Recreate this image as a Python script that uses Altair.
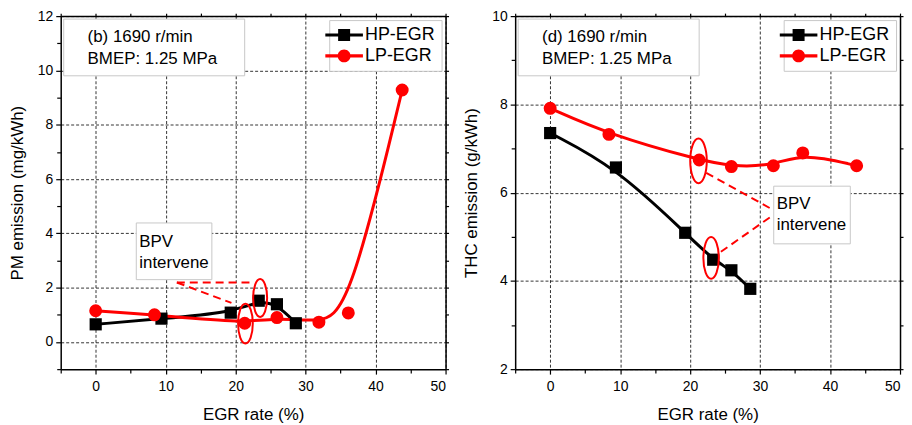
import altair as alt
import pandas as pd

# ---------------- data ----------------
series_names = ["HP-EGR", "LP-EGR"]
hp_egr = [0, 9.4, 19.3, 23.3, 25.9, 28.6]
lp_egr = [0, 8.4, 21.3, 25.9, 31.9, 36.1, 43.8]
pm_hp = [0.65, 0.86, 1.08, 1.52, 1.39, 0.69]
pm_lp = [1.15, 1.0, 0.69, 0.9, 0.73, 1.07, 9.28]
thc_hp = [7.35, 6.57, 5.09, 4.48, 4.24, 3.82]
thc_lp = [7.91, 7.32, 6.74, 6.59, 6.61, 6.90, 6.61]

x_major = [0, 10, 20, 30, 40, 50]
x_minor = [-5, 5, 15, 25, 35, 45]
pm_major = [0, 2, 4, 6, 8, 10, 12]
pm_minor = [-1, 1, 3, 5, 7, 9, 11]
thc_major = [2, 4, 6, 8, 10]
thc_minor = [3, 5, 7, 9]

# ellipse annotations (x, y, height in px)
pm_ell_x = [21.4, 23.5]
pm_ell_y = [0.68, 1.62]
pm_ell_h = [40, 38]
thc_ell_x = [21.2, 23.0]
thc_ell_y = [6.72, 4.52]
thc_ell_h = [45, 42]

# dashed leader lines (x, y) -> (x2, y2)
pm_rule_x = [11.6, 11.6]
pm_rule_y = [2.19, 2.19]
pm_rule_x2 = [22.45, 19.4]
pm_rule_y2 = [2.19, 1.44]
thc_rule_x = [22.3, 24.4]
thc_rule_y = [6.45, 4.66]
thc_rule_x2 = [31.96, 31.5]
thc_rule_y2 = [5.60, 5.45]

FONT = "Liberation Sans"
W, H = 387, 355

SQ_PATH = "M-2.1,-0.17H2.1V0.17H-2.1Z M-0.67,-0.67H0.67V0.67H-0.67Z"
CI_PATH = ("M-2.1,-0.17H2.1V0.17H-2.1Z "
           "M-0.72,0A0.72,0.72 0 1,1 0.72,0A0.72,0.72 0 1,1 -0.72,0Z")
ELL_PATH = "M-0.37,0A0.37,1 0 1,1 0.37,0A0.37,1 0 1,1 -0.37,0Z"


def panel(hp_y, lp_y, ydom, ymajor, yminor, ytitle, tag_lines,
          ex, ey, eh, rx, ry, rx2, ry2, bpv_box, bpv_text):
    xs = alt.Scale(domain=[-5, 50], nice=False, zero=False)
    ys = alt.Scale(domain=ydom, nice=False, zero=False)
    df_hp = pd.DataFrame({"egr": hp_egr, "val": hp_y, "series": series_names[0]})
    df_lp = pd.DataFrame({"egr": lp_egr, "val": lp_y, "series": series_names[1]})
    df_all = pd.concat([df_hp, df_lp], ignore_index=True)

    main_x = alt.Axis(values=x_major, title="EGR rate (%)", grid=True, tickSize=5,
                      labelPadding=5, titlePadding=14)
    main_y = alt.Axis(values=ymajor, title=ytitle, grid=True, tickSize=5,
                      labelPadding=3, titlePadding=11)
    minor_x = alt.Axis(values=x_minor, orient="bottom", grid=False, labels=False,
                       domain=False, tickSize=4, title=None)
    minor_y = alt.Axis(values=yminor, orient="left", grid=False, labels=False,
                       domain=False, tickSize=4, title=None)
    top_x = alt.Axis(values=x_major + x_minor, orient="top", grid=False, labels=False,
                     tickSize=3, title=None)
    right_y = alt.Axis(values=ymajor + yminor, orient="right", grid=False, labels=False,
                       tickSize=3, title=None)

    line_hp = alt.Chart(df_hp).mark_line(color="black", strokeWidth=3, interpolate="basis").encode(
        x=alt.X("egr:Q", scale=xs, axis=main_x),
        y=alt.Y("val:Q", scale=ys, axis=main_y),
    )
    line_lp = alt.Chart(df_lp).mark_line(color="red", strokeWidth=3, interpolate="basis").encode(
        x=alt.X("egr:Q", scale=xs, axis=minor_x),
        y=alt.Y("val:Q", scale=ys, axis=minor_y),
    )
    pts_hp = alt.Chart(df_hp).mark_point(filled=True, opacity=1, size=150, shape="square",
                                         color="black").encode(
        x=alt.X("egr:Q", scale=xs, axis=top_x),
        y=alt.Y("val:Q", scale=ys, axis=right_y),
    )
    pts_lp = alt.Chart(df_lp).mark_point(filled=True, opacity=1, size=170, shape="circle",
                                         color="red").encode(
        x=alt.X("egr:Q", scale=xs, axis=None),
        y=alt.Y("val:Q", scale=ys, axis=None),
    )
    legend = alt.Legend(
        title=None, orient="top-right", offset=4, padding=6, rowPadding=3,
        strokeColor="#c8c8c8", fillColor="white", labelFont=FONT, labelFontSize=18,
        labelColor="black", symbolSize=324, labelOffset=12, symbolStrokeWidth=0,
        symbolOpacity=1,
    )
    # legend-only layer: no marks are drawn (filtered out), scales have fixed domains
    legend_layer = alt.Chart(df_all).transform_filter("false").mark_point(filled=True).encode(
        x=alt.X("egr:Q", scale=xs, axis=None),
        y=alt.Y("val:Q", scale=ys, axis=None),
        color=alt.Color("series:N", scale=alt.Scale(domain=series_names, range=["black", "red"]),
                        legend=legend),
        shape=alt.Shape("series:N", scale=alt.Scale(domain=series_names, range=[SQ_PATH, CI_PATH]),
                        legend=legend),
    )

    df_ell = pd.DataFrame({"x": ex, "y": ey, "s": [h * h for h in eh]})
    ells = alt.Chart(df_ell).mark_point(shape=ELL_PATH, filled=False, color="red",
                                        strokeWidth=2, opacity=1).encode(
        x=alt.X("x:Q", scale=xs, axis=None),
        y=alt.Y("y:Q", scale=ys, axis=None),
        size=alt.Size("s:Q", scale=None),
    )
    df_rule = pd.DataFrame({"x": rx, "y": ry, "x2": rx2, "y2": ry2})
    rules = alt.Chart(df_rule).mark_rule(color="red", strokeWidth=2, strokeDash=[8, 5]).encode(
        x=alt.X("x:Q", scale=xs, axis=None),
        y=alt.Y("y:Q", scale=ys, axis=None),
        x2="x2:Q", y2="y2:Q",
    )

    box_style = dict(fill="white", stroke="#c8c8c8", strokeWidth=1)
    tag_box = alt.Chart().mark_rect(**box_style).encode(
        x=alt.value(3), x2=alt.value(185), y=alt.value(3), y2=alt.value(60))
    tag_txt = alt.Chart().mark_text(align="left", baseline="middle", font=FONT, fontSize=17,
                                    lineHeight=22, color="black").encode(
        x=alt.value(27), y=alt.value(21), text=alt.value(tag_lines))
    bx, bx2, by, by2 = bpv_box
    tx, ty = bpv_text
    bpv_b = alt.Chart().mark_rect(**box_style).encode(
        x=alt.value(bx), x2=alt.value(bx2), y=alt.value(by), y2=alt.value(by2))
    bpv_t = alt.Chart().mark_text(align="left", baseline="middle", font=FONT, fontSize=17,
                                  lineHeight=21, color="black").encode(
        x=alt.value(tx), y=alt.value(ty), text=alt.value(["BPV", "intervene"]))

    return alt.layer(line_hp, line_lp, pts_hp, pts_lp, legend_layer, tag_box, tag_txt,
                     bpv_b, bpv_t, rules, ells).resolve_axis(
        x="independent", y="independent").properties(width=W, height=H)


left = panel(pm_hp, pm_lp, [-1, 12], pm_major, pm_minor, "PM emission (mg/kWh)",
             ["(b) 1690 r/min", "BMEP: 1.25 MPa"],
             pm_ell_x, pm_ell_y, pm_ell_h, pm_rule_x, pm_rule_y, pm_rule_x2, pm_rule_y2,
             (76, 152, 208, 265), (79, 227))
right = panel(thc_hp, thc_lp, [2, 10], thc_major, thc_minor, "THC emission (g/kWh)",
              ["(d) 1690 r/min", "BMEP: 1.25 MPa"],
              thc_ell_x, thc_ell_y, thc_ell_h, thc_rule_x, thc_rule_y, thc_rule_x2, thc_rule_y2,
              (260, 337, 171, 229), (263, 189))

chart = alt.hconcat(left, right, spacing=13).properties(
    padding={"left": 0, "top": 0, "right": 0, "bottom": 0}
).resolve_scale(color="independent", shape="independent").configure_view(stroke=None).configure_axis(
    labelFont=FONT, titleFont=FONT, labelFontSize=14, titleFontSize=17,
    titleFontWeight="normal", labelColor="black", titleColor="black",
    domainColor="black", domainWidth=1.5, tickColor="black", tickWidth=1.2,
    gridColor="black", gridDash=[3, 2], gridWidth=0.8, gridOpacity=1,
)

chart.save("out.html", embed_options={"renderer": "svg", "actions": False})
